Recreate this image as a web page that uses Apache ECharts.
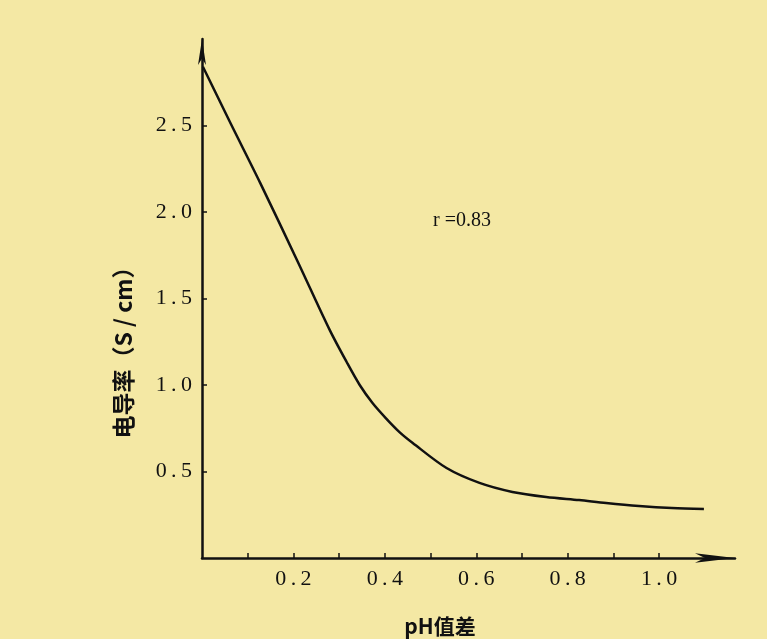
<!DOCTYPE html>
<html>
<head>
<meta charset="utf-8">
<script src="https://cdn.jsdelivr.net/npm/echarts@6/dist/echarts.min.js"></script>
<style>
  html, body { margin: 0; padding: 0; background: #f4e8a4; }
</style>
</head>
<body>
<div id="chart_conductivity" style="width: 767px; height: 639px;"></div>
<script>
  // pH difference vs conductivity
  const phDiff = [0.002, 0.063, 0.127, 0.210, 0.279, 0.317, 0.345, 0.373, 0.402, 0.432,
                  0.461, 0.535, 0.607, 0.679, 0.753, 0.825, 0.884, 0.956, 1.028, 1.098];
  const conductivity = [2.84, 2.51, 2.17, 1.71, 1.32, 1.13, 1.00, 0.896, 0.809, 0.728,
                        0.665, 0.52, 0.434, 0.382, 0.353, 0.335, 0.318, 0.301, 0.289, 0.283];
  const xTicks = [0.1, 0.2, 0.3, 0.4, 0.5, 0.6, 0.7, 0.8, 0.9, 1.0];
  const xTickLabels = [0.2, 0.4, 0.6, 0.8, 1.0];
  const yTickLabels = [0.5, 1.0, 1.5, 2.0, 2.5];
  const rText = 'r =0.83';

  let chart_conductivity = echarts.init(document.getElementById('chart_conductivity'));

  // old typeset numbers have a wide dot, so pad it with thin spaces
  let spaced = function (v) {
    return v.toFixed(1).split('').join('\u2009');
  };

  let option_conductivity = {
    backgroundColor: '#f4e8a4',
    animation: false,
    grid: {
      left: 202,
      right: 32,
      top: 39,
      bottom: 81
    },
    xAxis: {
      type: 'value',
      min: 0,
      max: 1.166,
      splitLine: { show: false },
      axisLine: {
        symbol: ['none', 'arrow'],
        symbolSize: [7, 40],
        lineStyle: { color: '#111', width: 2.5 }
      },
      axisTick: {
        inside: true,
        length: 5,
        customValues: xTicks,
        lineStyle: { color: '#111', width: 1.5 }
      },
      axisLabel: {
        customValues: xTickLabels,
        margin: 10,
        color: '#111',
        fontFamily: 'Liberation Serif',
        fontSize: 22,
        formatter: spaced
      }
    },
    yAxis: {
      type: 'value',
      min: 0,
      max: 3.0,
      splitLine: { show: false },
      axisLine: {
        symbol: ['none', 'arrow'],
        symbolSize: [6, 26],
        lineStyle: { color: '#111', width: 2.5 }
      },
      axisTick: {
        inside: true,
        length: 5,
        customValues: yTickLabels,
        lineStyle: { color: '#111', width: 1.5 }
      },
      axisLabel: {
        customValues: yTickLabels,
        margin: 10,
        color: '#111',
        fontFamily: 'Liberation Serif',
        fontSize: 22,
        formatter: spaced
      }
    },
    graphic: [
      {
        type: 'text',
        x: 433,
        y: 211,
        style: {
          text: rText,
          fill: '#111',
          font: '20px "Liberation Serif"'
        }
      },
      {
        type: 'text',
        x: 440,
        y: 626,
        style: {
          text: 'pH值差',
          fill: '#111',
          font: 'bold 21px "Noto Sans CJK SC"',
          align: 'center',
          verticalAlign: 'middle'
        }
      },
      {
        type: 'text',
        x: 123,
        y: 347,
        rotation: Math.PI / 2,
        style: {
          text: '电导率（S / cm）',
          fill: '#111',
          font: 'bold 23px "Noto Sans CJK SC"',
          align: 'center',
          verticalAlign: 'middle'
        }
      }
    ],
    series: [
      {
        name: '电导率',
        type: 'line',
        smooth: 0.3,
        symbol: 'none',
        lineStyle: { color: '#111', width: 2.5 },
        data: phDiff.map((x, i) => [x, conductivity[i]])
      }
    ]
  };

  chart_conductivity.setOption(option_conductivity);
</script>
</body>
</html>
